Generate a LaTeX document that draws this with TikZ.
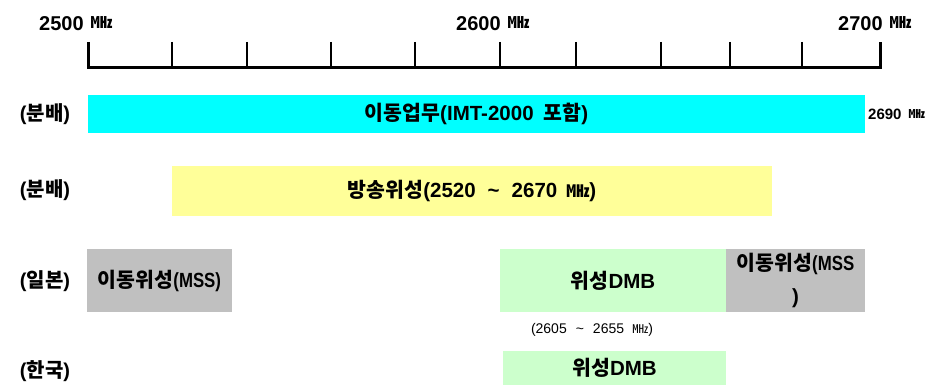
\documentclass[tikz,border=0pt]{standalone}
\usepackage{fontspec}
\setmainfont{Liberation Sans}
\newfontfamily\kr{Noto Sans CJK KR}
\definecolor{bandcyan}{HTML}{00FFFF}
\definecolor{bandyellow}{HTML}{FFFF99}
\definecolor{bandgray}{HTML}{C0C0C0}
\definecolor{bandgreen}{HTML}{CCFFCC}
\newcommand\unitMHz[1]{{\kr\fontsize{#1}{#1}\selectfont\scalebox{1.35}[1]{㎒}}}
\begin{document}
\begin{tikzpicture}[x=1pt,y=-1pt,
  band/.style={anchor=north west, inner sep=0pt, outer sep=0pt, align=center,
    font=\bfseries\fontsize{20.5}{33}\selectfont},
  rowlbl/.style={font=\bfseries\fontsize{20}{24}\selectfont, inner sep=0pt},
  scalelbl/.style={anchor=base west, inner sep=0pt, font=\bfseries\fontsize{20}{24}\selectfont},
  axisline/.style={line width=3pt, line join=miter},
  tickline/.style={line width=2.5pt}]
\useasboundingbox (0,0) rectangle (930,385);
% scale
\draw[axisline] (88,42) -- (88,68) -- (880,68) -- (880,42);
\foreach \t in {172,247,331,415,500,576,661,730,802}
  \draw[tickline] (\t,42) -- (\t,68);
\node[scalelbl] (s2500) at (39,31) {2500\hspace{7pt}\raisebox{2pt}{\unitMHz{16}}};
\node[scalelbl] (s2600) at (456,31) {2600\hspace{7pt}\raisebox{2pt}{\unitMHz{16}}};
\node[scalelbl] (s2700) at (838,31) {2700\hspace{7pt}\raisebox{2pt}{\unitMHz{16}}};
% row labels
\node[rowlbl] (r1) at (45,114) {({\kr 분배})};
\node[rowlbl] (r2) at (45,190) {({\kr 분배})};
\node[rowlbl] (r3) at (45,281) {({\kr 일본})};
\node[rowlbl] (r4) at (45,371) {({\kr 한국})};
% bands
\node[band, fill=bandcyan, minimum width=777pt, minimum height=38pt] (imt) at (88,95) {{\kr 이동업무}(IMT-2000\hspace{10pt}{\kr 포함})};
\node[anchor=west, inner sep=0pt, font=\bfseries\fontsize{15}{16}\selectfont] (f2690) at (868,114) {2690\hspace{7pt}\raisebox{1pt}{\unitMHz{12}}};
\node[band, fill=bandyellow, minimum width=600pt, minimum height=50pt] (bss) at (172,166) {{\kr 방송위성}(2520\hspace{12pt}\textasciitilde\hspace{12pt}2670\hspace{9pt}\unitMHz{17})};
\node[band, fill=bandgray, minimum width=145pt, minimum height=63pt] (mss1) at (87,249) {{\kr 이동위성}\scalebox{0.82}[1]{(MSS)}};
\node[band, fill=bandgreen, minimum width=226pt, minimum height=63pt] (dmbj) at (500,249) {{\kr 위성}DMB};
\node[band, fill=bandgray, minimum width=139pt, minimum height=63pt] (mss2) at (726,249) {{\kr 이동위성}\scalebox{0.82}[1]{(MSS}\\)};
\node[anchor=center, inner sep=0pt, font=\fontsize{14}{16}\selectfont] (rng) at (592,330) {(2605\hspace{9pt}\textasciitilde\hspace{9pt}2655\hspace{8pt}\unitMHz{12})};
\node[band, fill=bandgreen, minimum width=223pt, minimum height=34pt] (dmbk) at (503,351) {{\kr 위성}DMB};
\end{tikzpicture}
\end{document}
